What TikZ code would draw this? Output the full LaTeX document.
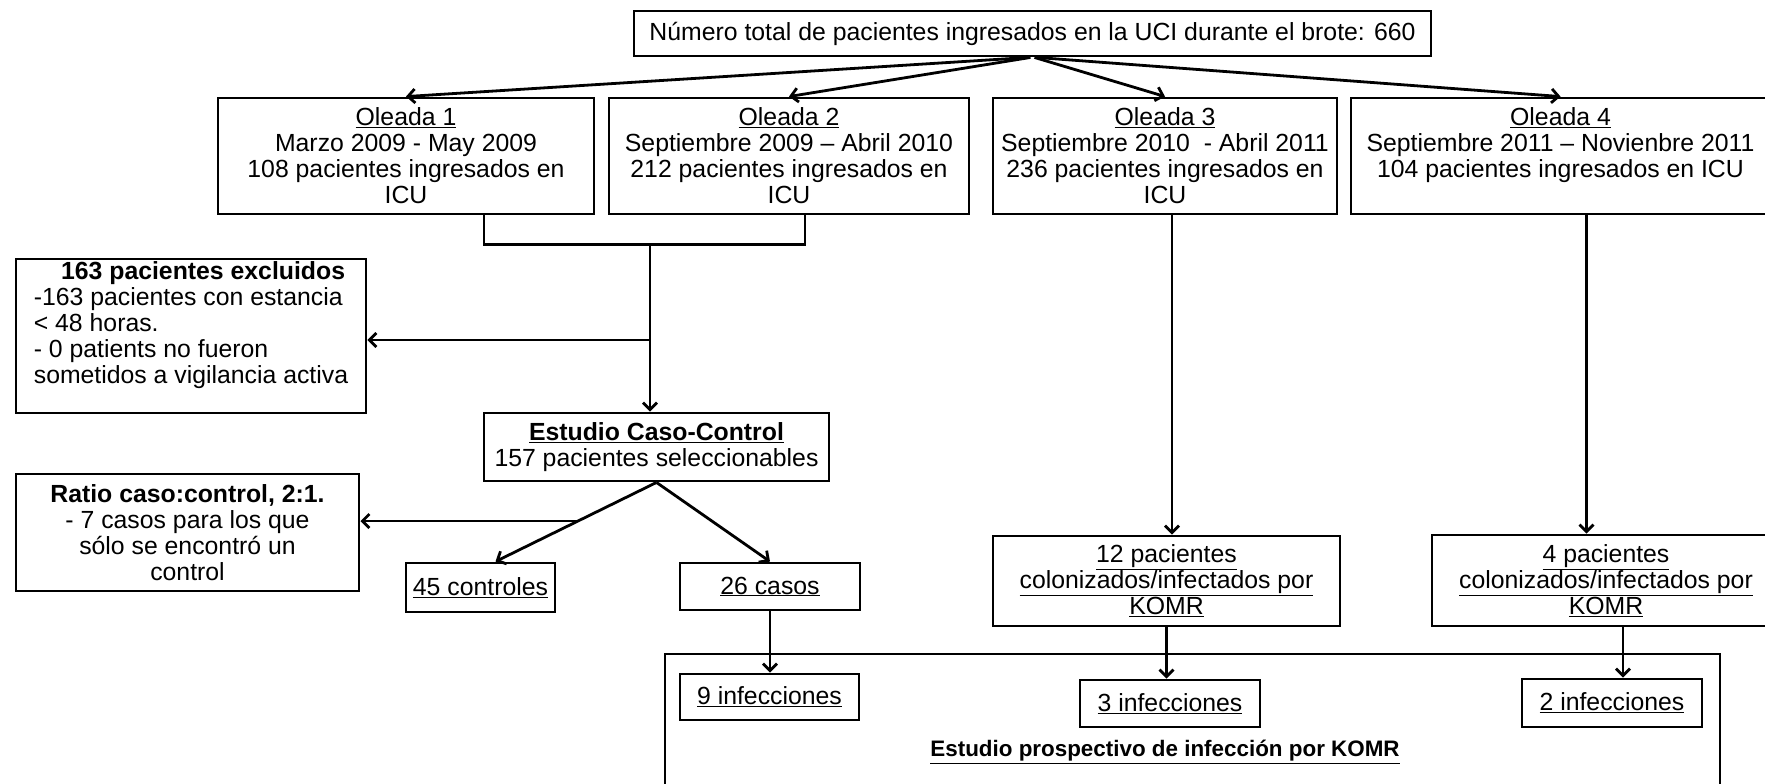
\documentclass[tikz,border=0pt]{standalone}
\usepackage{fontspec}
\setmainfont{Liberation Sans}
\usetikzlibrary{arrows.meta,calc}
\newcommand\ulx[1]{\underline{#1}}
\begin{document}
\begin{tikzpicture}[x=1pt,y=-1pt,
  box/.style={draw, line width=2.9pt, inner sep=0pt, align=center, font=\fontsize{24.8}{26}\selectfont},
  lbl/.style={inner sep=0pt, align=center, font=\fontsize{22.4}{26}\selectfont},
  arr/.style={line width=2.8pt, -{Straight Barb[length=7pt,width=14pt]}},
  ln/.style={line width=2.8pt}]
\fill[white] (0,0) rectangle (1765,784);
\useasboundingbox (0,0) rectangle (1765,784);

% boxes
\node[box, minimum width=797pt, minimum height=45pt] (top) at (1032.5,33.5)
  {Número total de pacientes ingresados en la UCI durante el brote: 660};
\node[box, minimum width=376pt, minimum height=116pt] (o1) at (406,156)
  {\ulx{Oleada 1}\\Marzo 2009 - May 2009\\108 pacientes ingresados en\\ICU};
\node[box, minimum width=360pt, minimum height=116pt] (o2) at (789,156)
  {\ulx{Oleada 2}\\Septiembre 2009 – Abril 2010\\212 pacientes ingresados en\\ICU};
\node[box, minimum width=344pt, minimum height=116pt] (o3) at (1165,156)
  {\ulx{Oleada 3}\\Septiembre 2010\ \ - Abril 2011\\236 pacientes ingresados en\\ICU};
\node[box, minimum width=419pt, minimum height=116pt] (o4) at (1560.5,156)
  {\ulx{Oleada 4}\\Septiembre 2011 – Novienbre 2011\\104 pacientes ingresados en ICU\\\mbox{}};

\node[box, minimum width=350pt, minimum height=154pt, align=left] (excl) at (191,336)
  {\hspace*{1.1em}\textbf{163 pacientes excluidos}\\-163 pacientes con estancia\\< 48 horas.\\- 0 patients no fueron\\sometidos a vigilancia activa\\\mbox{}};
\node[box, minimum width=345pt, minimum height=68pt] (ecc) at (656.5,447)
  {\textbf{\ulx{Estudio Caso-Control}}\\157 pacientes seleccionables};
\node[box, minimum width=343pt, minimum height=117pt] (ratio) at (187.5,532.5)
  {\textbf{Ratio caso:control, 2:1.}\\- 7 casos para los que\\sólo se encontró un\\control};
\node[box, minimum width=149pt, minimum height=49pt] (ctrl) at (480.5,587.5) {\ulx{45 controles}};
\node[box, minimum width=180pt, minimum height=47pt] (casos) at (770,586.5) {\ulx{26 casos}};
\node[box, minimum width=347pt, minimum height=90pt] (p12) at (1166.5,581)
  {\ulx{12 pacientes}\\\ulx{colonizados/infectados por}\\\ulx{KOMR}};
\node[box, minimum width=348pt, minimum height=91pt] (p4) at (1606,580.5)
  {\ulx{4 pacientes}\\\ulx{colonizados/infectados por}\\\ulx{KOMR}};

\node[box, minimum width=1055pt, minimum height=150pt] (big) at (1192.5,729) {};
\node[lbl] (bigl) at (1165,752) {\textbf{\ulx{Estudio prospectivo de infección por KOMR}}};
\node[box, minimum width=179pt, minimum height=46pt] (i9) at (769.5,697) {\ulx{9 infecciones}};
\node[box, minimum width=180pt, minimum height=47pt] (i3) at (1170,703.5) {\ulx{3 infecciones}};
\node[box, minimum width=180pt, minimum height=48pt] (i2) at (1612,703) {\ulx{2 infecciones}};

% connectors from top
\draw[arr] ([xshift=-4pt]top.south) -- (o1.north);
\draw[arr] ([xshift=-2pt]top.south) -- (o2.north);
\draw[arr] ([xshift=2pt]top.south) -- (o3.north);
\draw[arr] ([xshift=4pt]top.south) -- (o4.north);

% bracket
\coordinate (bC) at (650,243);
\draw[ln] ([xshift=78pt]o1.south) -- ++(0,29) -| ([xshift=16pt]o2.south);
\draw[arr] (bC) -- (bC |- ecc.north);
\coordinate (eX) at (650,340);
\draw[arr] (eX) -- (eX -| excl.east);

% case-control
\coordinate (cT) at ([xshift=15pt]ctrl.north);
\draw[arr] (ecc.south) -- (cT);
\draw[arr] (ecc.south) -- (casos.north);
\coordinate (rX) at ($(ecc.south)!0.488!(cT)$);
\draw[arr] (rX) -- (rX -| ratio.east);

% waves 3 and 4
\coordinate (o3b) at ([xshift=7pt]o3.south);
\draw[arr] (o3b) -- (o3b |- p12.north);
\coordinate (o4b) at ([xshift=26pt]o4.south);
\draw[arr] (o4b) -- (o4b |- p4.north);

% to infections
\draw[arr] (casos.south) -- (casos.south |- i9.north);
\draw[arr] (p12.south) -- (p12.south |- i3.north);
\coordinate (p4b) at ([xshift=17pt]p4.south);
\draw[arr] (p4b) -- (p4b |- i2.north);
\end{tikzpicture}
\end{document}
